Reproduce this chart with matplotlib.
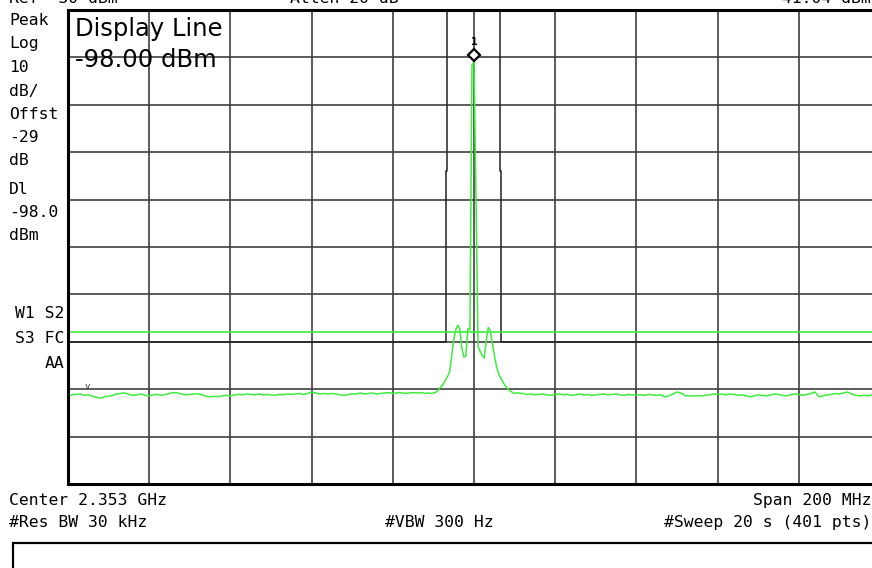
import matplotlib
matplotlib.use("Agg")
import matplotlib.pyplot as plt
import numpy as np
from matplotlib.patches import Rectangle
from matplotlib.transforms import offset_copy

W, H = 872, 568

CENTER_MHZ = 2353.0
SPAN_MHZ = 200.0
REF_DBM = -30.0
DB_PER_DIV = 10.0
DISPLAY_LINE_DBM = -98.0
MARKER_DBM = -41.04
THRESH_OFF_MHZ = -95.3
THRESH_DBM = -109.5

# trace 1 (green), frequency offsets from centre in MHz
left_noise_off = list(range(-100, -10))
left_noise_dbm = [
    -111.4, -111.2, -111.1, -111.0, -111.3, -111.2, -111.5, -111.7, -111.9, -111.6,
    -111.5, -111.3, -111.0, -110.9, -110.8, -111.1, -111.3, -111.2, -111.0, -111.3,
    -111.4, -111.2, -111.1, -111.3, -111.1, -110.9, -110.7, -110.8, -111.0, -111.2,
    -111.1, -111.0, -111.0, -111.2, -111.5, -111.6, -111.5, -111.6, -111.4, -111.3,
    -111.4, -111.2, -111.1, -111.2, -111.0, -111.1, -111.2, -111.0, -111.2, -111.1,
    -111.2, -111.3, -111.1, -111.2, -111.0, -111.1, -111.0, -110.9, -111.1, -110.9,
    -110.6, -110.8, -111.0, -110.9, -111.0, -110.9, -111.0, -111.2, -111.3, -111.1,
    -111.0, -111.0, -110.8, -111.0, -110.9, -110.8, -111.0, -110.9, -110.8, -110.7,
    -110.9, -110.8, -110.7, -110.9, -110.8, -110.7, -110.8, -110.7, -110.9, -110.8,
]
center_off = [
    -10.5, -10.0, -9.5, -9.0, -8.5, -8.0, -7.5, -7.0, -6.5, -6.0, -5.5, -5.0, -4.5, -4.0,
    -3.5, -3.0, -2.5, -2.0, -1.5, -1.0, -0.5, 0.0, 0.5, 1.0, 1.5, 2.0, 2.5, 3.0, 3.5,
    4.0, 4.5, 5.0, 5.5, 6.0, 6.5, 7.0, 7.5, 8.0, 8.5, 9.0, 9.5, 10.0, 10.5,
]
center_dbm = [
    -110.9, -110.8, -110.7, -110.4, -109.8, -109.4, -108.8, -108.0, -107.3, -106.3,
    -103.0, -99.6, -97.5, -96.5, -97.3, -101.3, -103.2, -103.0, -97.2, -97.5,
    -41.6, -41.04, -70.0, -101.0, -102.0, -102.9, -103.4, -100.0, -97.0, -97.6,
    -100.2, -102.8, -105.0, -106.6, -107.5, -108.3, -109.0, -109.6, -110.1, -110.4,
    -110.7, -110.9, -110.8,
]
right_noise_off = list(range(11, 101))
right_noise_dbm = [
    -110.8, -110.9, -111.1, -111.0, -111.2, -111.1, -111.0, -111.2, -111.3, -111.1,
    -111.0, -111.2, -111.1, -111.3, -111.2, -111.0, -111.2, -111.1, -111.3, -111.2,
    -111.1, -111.0, -111.2, -111.1, -111.0, -111.2, -111.3, -111.1, -111.2, -111.2,
    -111.2, -111.3, -111.1, -111.2, -111.3, -111.2, -111.6, -111.4, -111.0, -110.6,
    -110.8, -111.4, -111.4, -111.4, -111.4, -111.4, -111.3, -111.2, -111.0, -111.1,
    -111.0, -111.2, -111.0, -111.1, -111.3, -111.2, -111.4, -111.6, -111.4, -111.2,
    -111.3, -111.4, -111.2, -111.0, -111.1, -111.3, -111.4, -111.2, -111.0, -111.1,
    -111.3, -111.1, -110.9, -110.6, -111.6, -111.4, -111.2, -111.1, -110.9, -111.0,
    -110.8, -110.6, -111.0, -111.3, -111.4, -111.3, -111.4, -111.2, -111.3, -111.2,
]

# trace 2 (black), goes off screen above the top line
trace2_off = [-100.0, -7.0, -7.0, -6.75, -6.75, 6.3, 6.3, 6.55, 6.55, 100.0]
trace2_dbm = [-100.0, -100.0, -64.0, -64.0, -20.0, -20.0, -64.0, -64.0, -100.0, -100.0]

left_labels = ["Peak", "Log", "10", "dB/", "Offst", "-29", "dB", "Dl", "-98.0", "dBm"]
left_label_y = [25, 48, 72, 96, 119, 142, 165, 194, 217, 240]
flag_labels = ["W1 S2", "S3 FC", "AA"]
flag_label_y = [318, 343, 368]

GREEN = "#3ced3c"
GRID = "#404040"
MONO = {"family": "DejaVu Sans Mono", "size": 11.8, "color": "black"}


def ftext(x, y, s, **kw):
    # pixel position (from top-left) -> figure coordinates
    return fig.text(x / W, 1 - y / H, s, va="baseline", **kw)


fig = plt.figure(figsize=(W / 100, H / 100), dpi=100)
fig.patch.set_facecolor("white")

ax = fig.add_axes([68 / W, 1 - 484 / H, 812 / W, 474 / H])
ax.set_xlim(CENTER_MHZ - SPAN_MHZ / 2, CENTER_MHZ + SPAN_MHZ / 2)
ax.set_ylim(REF_DBM - 10 * DB_PER_DIV, REF_DBM)
ax.set_xticks(np.linspace(CENTER_MHZ - SPAN_MHZ / 2, CENTER_MHZ + SPAN_MHZ / 2, 11))
ax.set_yticks(np.linspace(REF_DBM - 10 * DB_PER_DIV, REF_DBM, 11))
ax.tick_params(length=0, labelbottom=False, labelleft=False)
ax.grid(True, color=GRID, linewidth=1.2)
ax.set_axisbelow(True)
for sp in ax.spines.values():
    sp.set_linewidth(2.2)
    sp.set_color("black")

# black trace
ax.plot(CENTER_MHZ + np.array(trace2_off), trace2_dbm, color="#222222", linewidth=1.1)

# green trace
trace_off = np.array(left_noise_off + center_off + right_noise_off, dtype=float)
trace_dbm = np.array(left_noise_dbm + center_dbm + right_noise_dbm)
ax.plot(CENTER_MHZ + trace_off, trace_dbm, color=GREEN, linewidth=1.1)

# display line
ax.axhline(DISPLAY_LINE_DBM, color=GREEN, linewidth=1.2)

# marker 1
mk_tr = offset_copy(ax.transData, fig=fig, x=0, y=5, units="points")
ax.plot([CENTER_MHZ], [MARKER_DBM], marker="D", markersize=6.5, markerfacecolor="white",
        markeredgecolor="black", markeredgewidth=1.6, transform=mk_tr, clip_on=False)
ax.annotate("1", (CENTER_MHZ, MARKER_DBM), xytext=(0, 11), textcoords="offset points",
            ha="center", va="bottom", fontsize=8, fontweight="bold", family="DejaVu Sans Mono")

# threshold caret
ax.text(CENTER_MHZ + THRESH_OFF_MHZ, THRESH_DBM, "v", ha="center", va="center",
        fontsize=6.5, color="#333333", family="DejaVu Sans Mono")

# big annotation
ax.text(0.009, 0.945, "Display Line", transform=ax.transAxes, fontsize=17.5,
        family="DejaVu Sans", va="baseline")
ax.text(0.009, 0.88, "-98.00 dBm", transform=ax.transAxes, fontsize=17.5,
        family="DejaVu Sans", va="baseline")

# header row (cut off at the top, as in the screenshot)
ftext(9, 3, "Ref -30 dBm", **MONO)
ftext(290, 3, "Atten 20 dB", **MONO)
ftext(871, 3, "-41.04 dBm", ha="right", **MONO)

for s, y in zip(left_labels, left_label_y):
    ftext(9, y, s, **MONO)
for s, y in zip(flag_labels, flag_label_y):
    ftext(64, y, s, ha="right", **MONO)

ftext(9, 505, "Center 2.353 GHz", **MONO)
ftext(871, 505, "Span 200 MHz", ha="right", **MONO)
ftext(9, 527, "#Res BW 30 kHz", **MONO)
ftext(385, 527, "#VBW 300 Hz", **MONO)
ftext(871, 527, "#Sweep 20 s (401 pts)", ha="right", **MONO)

fig.patches.append(Rectangle((13 / W, -0.05), 1.0, 1 - 543 / H + 0.05, transform=fig.transFigure,
                             fill=False, edgecolor="black", linewidth=1.6))

fig.savefig("out.png", dpi=100)
